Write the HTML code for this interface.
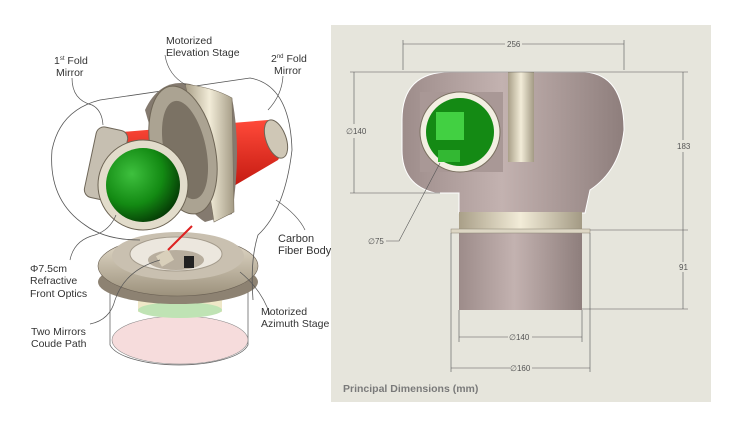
<!DOCTYPE html>
<html><head><meta charset="utf-8"><style>
body{margin:0;background:#fff;width:736px;height:427px;overflow:hidden;font-family:"Liberation Sans","DejaVu Sans",sans-serif}
svg{position:absolute;left:0;top:0}
</style></head><body>
<svg width="736" height="427" viewBox="0 0 736 427">
<defs>
<radialGradient id="gr" cx="0.35" cy="0.35" r="0.7"><stop offset="0" stop-color="#3ec03e"/><stop offset="0.6" stop-color="#138a13"/><stop offset="1" stop-color="#063d06"/></radialGradient>
<linearGradient id="body" x1="0" x2="1"><stop offset="0" stop-color="#9d8c8a"/><stop offset="0.45" stop-color="#c3b2b0"/><stop offset="1" stop-color="#8e7e7c"/></linearGradient>
<linearGradient id="band" x1="0" x2="1"><stop offset="0" stop-color="#a99f88"/><stop offset="0.5" stop-color="#f2ecd8"/><stop offset="1" stop-color="#a39a84"/></linearGradient>
<linearGradient id="metal" x1="0" y1="0" x2="0" y2="1"><stop offset="0" stop-color="#e8e0cf"/><stop offset="1" stop-color="#9c917c"/></linearGradient>
<linearGradient id="red" x1="0" y1="0" x2="0" y2="1"><stop offset="0" stop-color="#ff4a3a"/><stop offset="1" stop-color="#b81008"/></linearGradient>
</defs>

<!-- LEFT ILLUSTRATION -->
<path d="M110 272 L110 345 A70 24 0 0 0 248 345 L248 272" fill="none" stroke="#666" stroke-width="0.8"/>
<ellipse cx="180" cy="340" rx="68" ry="24" fill="#f6dcdc" stroke="#888" stroke-width="0.6"/>
<rect x="138" y="290" width="84" height="22" fill="#efe8c8"/>
<ellipse cx="180" cy="310" rx="42" ry="8" fill="#bfe3b4"/>
<ellipse cx="178" cy="282" rx="80" ry="22" fill="#8d8272"/>
<ellipse cx="178" cy="266" rx="80" ry="30" fill="url(#metal)" stroke="#6c6255" stroke-width="0.6"/>
<ellipse cx="178" cy="256" rx="66" ry="24" fill="#c9c0b0"/>
<ellipse cx="176" cy="254" rx="46" ry="17" fill="#ece7de" stroke="#a49b8c"/>
<ellipse cx="176" cy="260" rx="28" ry="10" fill="#b8ae9e"/>
<rect x="158" y="252" width="14" height="12" fill="#d9d0bb" transform="rotate(-30 165 258)"/>
<rect x="184" y="256" width="10" height="12" fill="#222"/>
<line x1="168" y1="250" x2="192" y2="226" stroke="#d22" stroke-width="2"/>
<path d="M100 100 Q60 110 52 150 Q48 200 85 225 Q105 240 140 240 M100 100 L250 78 Q290 85 292 150 Q285 210 258 235 Q250 260 253 300" fill="none" stroke="#555" stroke-width="0.8"/>
<path d="M110 150 L122 132 L268 120 L285 147 L278 160 L210 200 L120 200 Z" fill="url(#red)"/>
<rect x="90" y="128" width="32" height="72" rx="8" fill="#c6bfb1" stroke="#6e6658" transform="rotate(12 106 164)"/>
<ellipse cx="276" cy="139" rx="10" ry="20" fill="#cfc7b6" stroke="#6e6658" transform="rotate(-20 276 139)"/>
<path d="M145 110 Q160 78 190 84 L232 98 Q242 150 232 214 L205 222 Q170 200 145 110 Z" fill="#847a6f"/>
<path d="M185 84 Q215 88 232 98 L234 212 L214 222 Q205 160 185 84 Z" fill="url(#band)" stroke="#7a705f" stroke-width="0.6"/>
<ellipse cx="183" cy="150" rx="32" ry="65" fill="#aba392" stroke="#6f6656" transform="rotate(-12 183 150)"/>
<ellipse cx="185" cy="150" rx="21" ry="50" fill="#7b7264" transform="rotate(-12 185 150)"/>
<circle cx="143" cy="185" r="45" fill="#e2dccb" stroke="#6d6454"/>
<circle cx="143" cy="185" r="37" fill="url(#gr)"/>
<g fill="none" stroke="#555" stroke-width="0.7">
<path d="M72 78 Q72 100 92 105 Q102 110 103 125"/>
<path d="M165 55 Q168 75 186 85"/>
<path d="M283 76 Q282 95 268 110"/>
<path d="M305 230 Q298 215 276 200"/>
<path d="M70 260 Q74 240 95 235 Q110 230 116 215"/>
<path d="M270 315 Q262 290 240 272"/>
<path d="M90 324 Q110 320 115 300 Q125 270 160 260"/>
</g>
<g font-size="10.5" fill="#333">
<text x="166" y="44">Motorized</text><text x="166" y="56">Elevation Stage</text>
<text x="54" y="64">1<tspan font-size="6" dy="-4">st</tspan><tspan dy="4"> Fold</tspan></text><text x="56" y="76">Mirror</text>
<text x="271" y="62">2<tspan font-size="6" dy="-4">nd</tspan><tspan dy="4"> Fold</tspan></text><text x="274" y="74">Mirror</text>
<text x="278" y="242" font-size="11">Carbon</text><text x="278" y="254" font-size="11">Fiber Body</text>
<text x="30" y="272">Φ7.5cm</text><text x="30" y="284">Refractive</text><text x="30" y="297">Front Optics</text>
<text x="261" y="315">Motorized</text><text x="261" y="327">Azimuth Stage</text>
<text x="31" y="335">Two Mirrors</text><text x="31" y="347">Coude Path</text>
</g>

<!-- RIGHT PANEL -->
<rect x="331" y="25" width="380" height="377" fill="#e6e5dc"/>
<path d="M459 190 L459 310 L582 310 L582 190 Z" fill="url(#body)"/>
<path d="M402 120 Q402 72 450 72 L585 72 Q624 75 624 130 Q620 170 590 190 L585 213 L459 213 L459 193 L435 193 Q402 185 402 150 Z" fill="url(#body)" stroke="#fff" stroke-width="1"/>
<rect x="420" y="92" width="83" height="80" fill="#a99896"/>
<rect x="508" y="72" width="26" height="90" fill="url(#band)"/>
<rect x="459" y="212" width="123" height="18" fill="url(#band)"/>
<rect x="451" y="229" width="139" height="4" fill="#ddd6c4" stroke="#8b8474" stroke-width="0.5"/>
<circle cx="460" cy="132" r="40" fill="#f3efe2" stroke="#7a7060"/>
<circle cx="460" cy="132" r="34" fill="#148a14"/>
<rect x="436" y="112" width="28" height="28" fill="#42d042"/>
<rect x="438" y="150" width="22" height="12" fill="#33b833"/>
<g stroke="#555" stroke-width="0.6" fill="none">
<line x1="403" y1="40" x2="403" y2="70"/><line x1="624" y1="40" x2="624" y2="70"/>
<line x1="403" y1="44" x2="505" y2="44"/><line x1="522" y1="44" x2="624" y2="44"/>
<line x1="350" y1="72" x2="688" y2="72"/>
<line x1="350" y1="193" x2="440" y2="193"/>
<line x1="354" y1="72" x2="354" y2="124"/><line x1="354" y1="138" x2="354" y2="193"/>
<line x1="683" y1="72" x2="683" y2="140"/><line x1="683" y1="152" x2="683" y2="230"/>
<line x1="590" y1="230" x2="688" y2="230"/>
<line x1="683" y1="230" x2="683" y2="262"/><line x1="683" y1="272" x2="683" y2="309"/>
<line x1="582" y1="309" x2="688" y2="309"/>
<line x1="459" y1="310" x2="459" y2="342"/><line x1="582" y1="310" x2="582" y2="342"/>
<line x1="451" y1="233" x2="451" y2="372"/><line x1="590" y1="233" x2="590" y2="372"/>
<line x1="459" y1="337" x2="508" y2="337"/><line x1="532" y1="337" x2="582" y2="337"/>
<line x1="451" y1="368" x2="510" y2="368"/><line x1="532" y1="368" x2="590" y2="368"/>
<path d="M440 163 L399 241 L386 241"/>
</g>
<g font-size="8" fill="#555">
<text x="507" y="47">256</text>
<text x="346" y="134">∅140</text>
<text x="677" y="149">183</text>
<text x="679" y="270">91</text>
<text x="368" y="244">∅75</text>
<text x="509" y="340">∅140</text>
<text x="510" y="371">∅160</text>
</g>
<text x="343" y="392" font-size="10.5" font-weight="bold" fill="#7a7a7a">Principal Dimensions (mm)</text>
</svg>
</body></html>
